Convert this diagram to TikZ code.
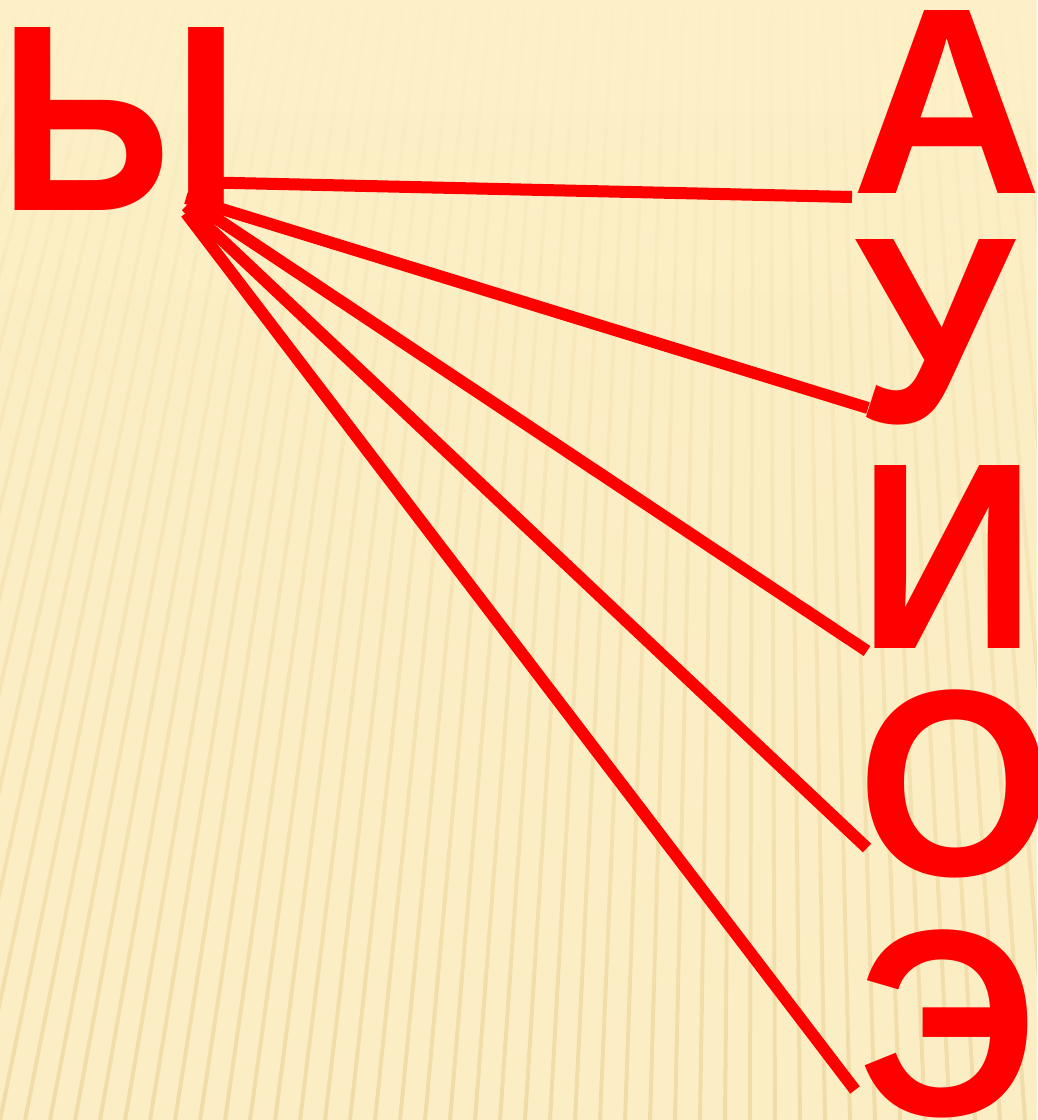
\documentclass[tikz,border=0pt]{standalone}
\usepackage{fontspec}
\newfontfamily\vowelfont{Liberation Sans}
\usetikzlibrary{calc,fadings}
\usepackage{xcolor}

\definecolor{bgtop}{RGB}{254,244,206}
\definecolor{bgmid}{RGB}{252,238,196}
\definecolor{bglow}{RGB}{244,224,168}
\definecolor{bgbot}{RGB}{229,206,140}
\definecolor{stripecol}{RGB}{214,180,104}

\pgfdeclareverticalshading{paper}{100bp}{color(0bp)=(bgbot); color(16bp)=(bglow); color(19bp)=(bgmid); color(60bp)=(bgmid); color(100bp)=(bgtop)}

\tikzset{
  vowel/.style={text=red, inner sep=0pt, anchor=base, transform shape, xscale=0.94,
    font=\vowelfont\bfseries\fontsize{266}{266}\selectfont},
  link/.style={draw=red, line width=12pt},
  stripe/.style={draw=stripecol, line width=4pt, opacity=0.3, path fading=north}
}

\begin{document}
\begin{tikzpicture}[x=1pt, y=-1pt]
  \useasboundingbox (0,0) rectangle (1037,1120);
  % paper background
  \shade[shading=paper] (0,0) rectangle (1037,1120);
  \begin{scope}
    \clip (0,0) rectangle (1037,1120);
    \foreach \sx in {-400,-375,...,1400}
      \draw[stripe] (\sx,1120) -- ($(\sx,1120)!0.3!(760,-2600)$);
  \end{scope}

  % letters
  \node[vowel, xscale=0.99] (yy) at (120,210) {Ы};
  \node[vowel, xscale=1.06] (a) at (947,193) {А};
  \node[vowel, xscale=1.02] (u) at (935,422) {У};
  \node[vowel, xscale=0.99] (i) at (947,648) {И};
  \node[vowel, xscale=1.01] (o) at (956,875) {О};
  \node[vowel, xscale=1.01] (e) at (948,1115) {Э};

  % ends of the links
  \coordinate (s1) at (190,182);
  \coordinate (s2) at (186,198);
  \coordinate (s3) at (190,201);
  \coordinate (s4) at (186,206);
  \coordinate (s5) at (186,213);
  \coordinate (ea) at (852,197);
  \coordinate (eu) at (868,408);
  \coordinate (ei) at (867,651);
  \coordinate (eo) at (867,848);
  \coordinate (ee) at (855,1090);

  \draw[link] (s1) -- (ea);
  \draw[link] (s2) -- (eu);
  \draw[link] (s3) -- (ei);
  \draw[link] (s4) -- (eo);
  \draw[link] (s5) -- (ee);
\end{tikzpicture}
\end{document}
